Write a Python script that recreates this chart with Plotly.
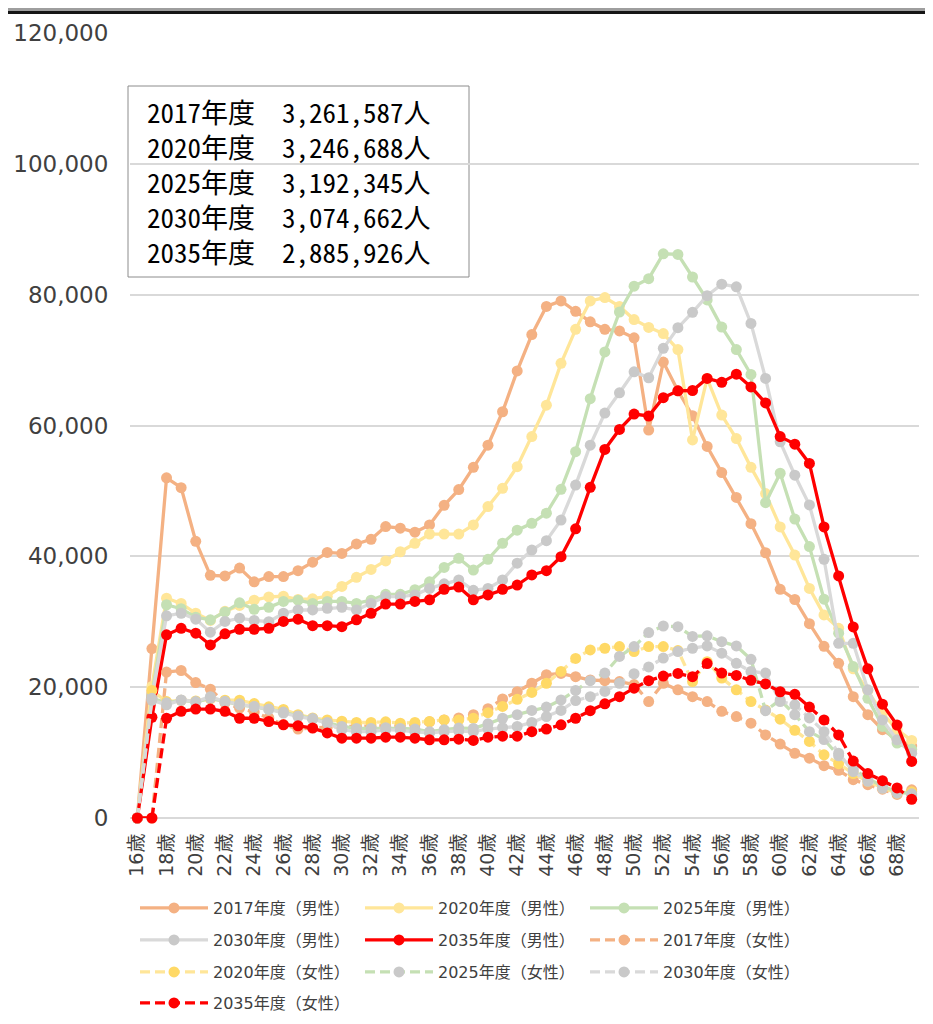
import plotly.graph_objects as go

# ---------------- data ----------------
ages = list(range(16, 70))
age_tick_values = list(range(16, 70, 2))
age_tick_labels = [f"{a}歳" for a in age_tick_values]
y_tick_values = list(range(0, 120001, 20000))

series_names = [
    "2017年度（男性）", "2020年度（男性）", "2025年度（男性）", "2030年度（男性）", "2035年度（男性）",
    "2017年度（女性）", "2020年度（女性）", "2025年度（女性）", "2030年度（女性）", "2035年度（女性）",
]

m2017 = [0, 25900, 52000, 50500, 42300, 37100, 37000, 38200, 36100, 36900,
         36900, 37800, 39100, 40600, 40450, 41900, 42600, 44550, 44300, 43700,
         44800, 47800, 50200, 53600, 57000, 62100, 68350, 73900, 78200, 79050,
         77450, 75850, 74700, 74450, 73400, 59300, 69700, 65300, 61500, 56800,
         52800, 49000, 45000, 40550, 34950, 33400, 29700, 26250, 23650, 18550,
         15800, 13500, 12000, 11000]
m2020 = [0, 20100, 33600, 32800, 31300, 30200, 31600, 32500, 33300, 33800,
         33900, 33400, 33500, 33900, 35400, 36800, 38000, 39300, 40700, 42000,
         43400, 43400, 43400, 44800, 47600, 50400, 53700, 58300, 63100, 69500,
         74700, 79050, 79550, 78200, 76200, 75000, 74050, 71600, 57800, 67200,
         61600, 58000, 53600, 49600, 44500, 40200, 35100, 31050, 29000, 22800,
         19500, 16000, 13500, 11850]
m2025 = [0, 18800, 32600, 32000, 30700, 30300, 31500, 32900, 31900, 32200,
         33100, 33300, 32800, 33100, 33100, 32800, 33300, 34200, 34200, 34900,
         36100, 38300, 39700, 37900, 39550, 42000, 44000, 45050, 46600, 50250,
         56000, 64100, 71250, 77350, 81300, 82450, 86250, 86150, 82700, 79200,
         75050, 71600, 67800, 48200, 52700, 45700, 41500, 33450, 28250, 23150,
         18300, 14000, 11450, 10500]
m2030 = [0, 18500, 30900, 31300, 30400, 28400, 30050, 30550, 30200, 30000,
         31300, 31800, 31800, 32050, 32200, 31800, 32800, 33850, 33850, 34100,
         35100, 35800, 36400, 34800, 35100, 36400, 38950, 40950, 42400, 45550,
         50900, 57000, 61900, 65000, 68200, 67300, 71800, 74950, 77300, 79850,
         81600, 81200, 75600, 67200, 57500, 52400, 47850, 39550, 26700, 26700,
         19600, 15000, 11950, 9900]
m2035 = [0, 15400, 28000, 29000, 28250, 26450, 28150, 28850, 28850, 29000,
         30050, 30400, 29400, 29400, 29250, 30300, 31300, 32700, 32700, 33100,
         33350, 34950, 35300, 33350, 34100, 34950, 35600, 37150, 37800, 39950,
         44200, 50550, 56350, 59400, 61750, 61450, 64250, 65300, 65350, 67200,
         66600, 67850, 65900, 63450, 58300, 57150, 54200, 44500, 37000, 29200,
         22800, 17400, 14200, 8650]

f2017 = [0, 0, 22300, 22550, 20700, 19700, 17600, 16800, 16200, 15300,
         14300, 13600, 13800, 13900, 14000, 14000, 14000, 14000, 14100, 14300,
         14700, 15000, 15300, 15800, 16700, 18200, 19300, 20600, 21900, 22100,
         21600, 21100, 21000, 20850, 20400, 17800, 20600, 19600, 18550, 17800,
         16300, 15500, 14500, 12700, 11300, 9900, 9150, 8000, 7300, 5850,
         5100, 4400, 3600, 4300]
f2020 = [0, 19500, 17800, 18000, 17900, 18200, 18000, 18000, 17500, 17000,
         16600, 15800, 15300, 15000, 14800, 14600, 14600, 14700, 14500, 14600,
         14750, 15000, 15000, 15250, 16100, 17050, 18150, 19200, 20600, 22400,
         24400, 25700, 25950, 26200, 25450, 26200, 26200, 25600, 20850, 23900,
         21400, 19600, 17800, 16500, 15100, 13400, 11700, 9650, 8300, 6800,
         5600, 4600, 3800, 4000]
f2025 = [0, 18300, 17600, 18000, 17700, 18300, 17800, 17300, 17000, 16600,
         16200, 15600, 15200, 14600, 14000, 13700, 13700, 13800, 13700, 13600,
         13200, 13500, 13750, 13700, 14400, 15250, 15800, 16450, 16950, 18050,
         19500, 21000, 22150, 24700, 26200, 28350, 29350, 29250, 27750, 27850,
         26950, 26300, 24250, 16400, 18050, 15800, 13200, 12000, 9500, 7500,
         6000, 4900, 4000, 3700]
f2030 = [0, 18000, 17300, 18050, 17800, 18550, 17800, 17450, 17050, 16650,
         16050, 15500, 15100, 14500, 13500, 13200, 13200, 13500, 13400, 13200,
         13000, 13200, 13300, 13200, 13600, 13800, 14000, 14600, 15500, 16450,
         17950, 18550, 19350, 20600, 22050, 23100, 24450, 25450, 25950, 26300,
         25200, 23650, 22400, 22150, 17800, 17300, 15300, 13200, 9900, 7100,
         5600, 4550, 3800, 3500]
f2035 = [0, 0, 15250, 16300, 16650, 16650, 16300, 15250, 15250, 14750,
         14250, 14100, 13750, 13000, 12200, 12200, 12200, 12350, 12350, 12200,
         11950, 11950, 12050, 11850, 12350, 12500, 12500, 13200, 13600, 14250,
         15250, 16400, 17450, 18550, 19850, 21000, 21700, 22100, 21600, 23600,
         22150, 21800, 21050, 20500, 19300, 18900, 16950, 15000, 12700, 8700,
         6800, 5700, 4600, 2850]

box_years = ["2017年度", "2020年度", "2025年度", "2030年度", "2035年度"]
box_totals = [3261587, 3246688, 3192345, 3074662, 2885926]

# ---------------- layout helpers ----------------
# The page places the figure 8 px in from the top-left corner of the window,
# so the figure is sized to end exactly at the window's right/bottom edges and
# all positions below are given in window pixels, then shifted by OFF.
OFF = 8
W, H = 933 - OFF, 1024 - OFF
ML, MR, MT, MB = 130 - OFF, 14, 33 - OFF, 206
PW = W - ML - MR
PH = H - MT - MB


def px_x(x):
    return (x - OFF - ML) / PW


def px_y(y):
    return (H - MB - (y - OFF)) / PH


def cx(x):
    return (x - OFF) / W


def cy(y):
    return 1 - (y - OFF) / H


ORANGE = "#F4B183"
YELLOW = "#FFE699"
YELLOW_DK = "#FFD966"
GREEN = "#C5E0B4"
GRAY_L = "#D9D9D9"
GRAY_M = "#C9C9C9"
RED = "#FF0000"

FONT = "DejaVu Sans, Noto Sans CJK JP, sans-serif"
BOX_FONT = "Noto Sans Mono CJK JP, Noto Sans CJK JP, monospace"

values = [m2017, m2020, m2025, m2030, m2035, f2017, f2020, f2025, f2030, f2035]
line_colors = [ORANGE, YELLOW, GREEN, GRAY_L, RED, ORANGE, YELLOW, GREEN, GRAY_L, RED]
marker_colors = [ORANGE, YELLOW, GREEN, GRAY_M, RED, ORANGE, YELLOW_DK, GRAY_M, GRAY_M, RED]
dashes = ["solid"] * 5 + ["10px,5px"] * 5
legend_ids = ["legend", "legend", "legend", "legend2", "legend2", "legend2",
              "legend3", "legend3", "legend3", "legend4"]

fig = go.Figure()
for name, vals, lc, mc, dsh, lg in zip(series_names, values, line_colors,
                                       marker_colors, dashes, legend_ids):
    fig.add_trace(go.Scatter(
        x=ages, y=vals, name=name, mode="lines+markers",
        line=dict(color=lc, width=3.3, dash=dsh),
        marker=dict(color=mc, size=11),
        cliponaxis=False, legend=lg,
    ))

legend_rows_px = [908, 940, 972, 1003]
legend_common = dict(
    orientation="h", xref="container", yref="container",
    xanchor="left", yanchor="middle",
    x=cx(135), entrywidth=142, entrywidthmode="pixels", itemwidth=68,
    font=dict(family=FONT, size=16, color="#404040"),
    bgcolor="rgba(0,0,0,0)", traceorder="normal",
)

shapes = [
    # annotation box
    dict(type="rect", xref="paper", yref="paper",
         x0=px_x(128), x1=px_x(469), y0=px_y(277), y1=px_y(86),
         line=dict(color="#8C8C8C", width=1), fillcolor="white", layer="below"),
    # dark frame strip at the top of the figure
    dict(type="rect", xref="paper", yref="paper",
         x0=px_x(OFF), x1=px_x(933), y0=px_y(OFF + 3), y1=px_y(OFF),
         line=dict(width=0), fillcolor="#9E9E9E"),
    dict(type="rect", xref="paper", yref="paper",
         x0=px_x(OFF), x1=px_x(933), y0=px_y(OFF + 6), y1=px_y(OFF + 3),
         line=dict(width=0), fillcolor="#151515"),
]

box_text = "<br>".join(f"{yr}\u3000{tot:,}人" for yr, tot in zip(box_years, box_totals))
annotations = [dict(
    xref="paper", yref="paper", x=px_x(147), y=px_y(182),
    xanchor="left", yanchor="middle", showarrow=False, align="left",
    text=box_text, borderpad=0, borderwidth=0,
    font=dict(family=BOX_FONT, size=27, color="#000000"),
)]

fig.update_layout(
    width=W, height=H,
    margin=dict(l=ML, r=MR, t=MT, b=MB, pad=0, autoexpand=False),
    paper_bgcolor="white", plot_bgcolor="white",
    showlegend=True,
    legend=dict(legend_common, y=cy(legend_rows_px[0])),
    legend2=dict(legend_common, y=cy(legend_rows_px[1])),
    legend3=dict(legend_common, y=cy(legend_rows_px[2])),
    legend4=dict(legend_common, y=cy(legend_rows_px[3])),
    shapes=shapes,
    annotations=annotations,
    xaxis=dict(
        range=[15.5, 69.5], tickmode="array",
        tickvals=age_tick_values, ticktext=age_tick_labels,
        tickangle=-90, showgrid=False, zeroline=False, showline=False,
        ticks="outside", ticklen=7, tickcolor="rgba(0,0,0,0)",
        tickfont=dict(family=FONT, size=19, color="#404040"),
    ),
    yaxis=dict(
        range=[0, 120000], tickmode="array", tickvals=y_tick_values,
        tickformat=",", showgrid=True, gridcolor=GRAY_L, gridwidth=1.5,
        zeroline=True, zerolinecolor=GRAY_L, zerolinewidth=1.5,
        showline=False, ticks="outside", ticklen=16, tickcolor="rgba(0,0,0,0)",
        tickfont=dict(family=FONT, size=23, color="#404040"),
    ),
)

fig.write_html("out.html")
